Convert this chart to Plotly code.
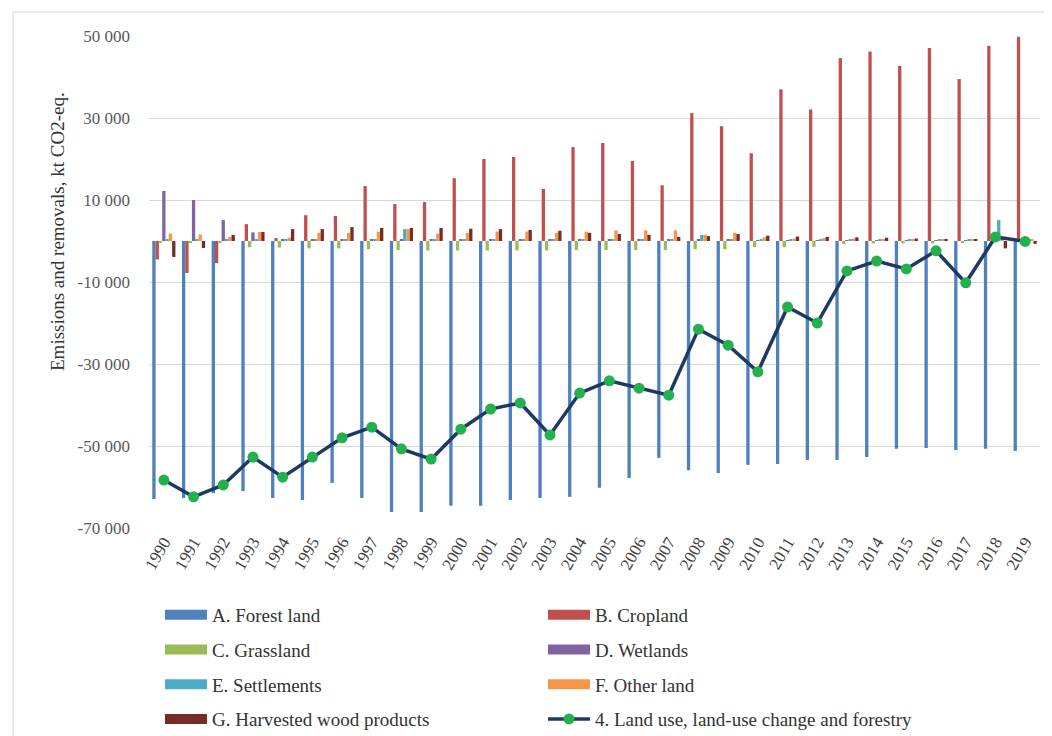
import plotly.graph_objects as go

years = [str(y) for y in range(1990, 2020)]

forest_land = [-62900, -62700, -61500, -61000, -62700, -63200, -59000, -62700, -66100, -66100,
               -64600, -64600, -63200, -62700, -62400, -60200, -57800, -52900, -55900, -56600,
               -54600, -54400, -53400, -53400, -52700, -50700, -50500, -51000, -50700, -51200]
cropland = [-4500, -7800, -5400, 4100, 700, 6300, 6100, 13400, 9000, 9500,
            15300, 20000, 20500, 12700, 22900, 23900, 19500, 13600, 31200, 28000,
            21400, 37000, 32100, 44600, 46200, 42700, 47100, 39500, 47600, 49800]
grassland = [-300, -300, -500, -1500, -1600, -1800, -1800, -2000, -2200, -2300,
             -2300, -2300, -2300, -2300, -2200, -2200, -2200, -2200, -2000, -2000,
             -1500, -1500, -1400, -700, -600, -600, -600, -500, -500, -500]
wetlands = [12200, 10000, 5100, 2100, 500, 300, 300, 300, 300, 300,
            300, 300, 300, 300, 300, 300, 300, 300, 300, 300,
            200, 200, 200, 200, 200, 200, 200, 200, 200, 200]
settlements = [300, 300, 300, 300, 300, 300, 300, 300, 2900, 300,
               300, 300, 300, 300, 300, 300, 300, 300, 1500, 300,
               300, 300, 300, 300, 300, 300, 300, 300, 5100, 300]
other_land = [1800, 1600, 1000, 2200, 800, 2000, 2000, 2200, 2900, 1800,
              2000, 2300, 2300, 2000, 2300, 2600, 2600, 2600, 1500, 2000,
              900, 600, 700, 600, 400, 400, 300, 300, 300, 300]
harvested_wood = [-3900, -1700, 1500, 2200, 2900, 2900, 3400, 3200, 3200, 3200,
                  3000, 2900, 2700, 2500, 2000, 1700, 1500, 1000, 1200, 1700,
                  1300, 1100, 1000, 900, 800, 600, 500, 400, -1800, -700]
lulucf_total = [-58300, -62400, -59500, -52700, -57600, -52700, -48000, -45400, -50700, -53200,
                -45900, -41000, -39500, -47300, -37100, -34100, -35900, -37600, -21500, -25400,
                -31900, -16100, -20000, -7300, -4900, -6800, -2400, -10200, 1000, -100]

y_tick_values = [50000, 30000, 10000, -10000, -30000, -50000, -70000]
y_tick_labels = ["50 000", "30 000", "10 000", "-10 000", "-30 000", "-50 000", "-70 000"]

bar_series = [
    ("A. Forest land", forest_land, "#4f81bd", "legend"),
    ("B. Cropland", cropland, "#c0504d", "legend2"),
    ("C. Grassland", grassland, "#9bbb59", "legend"),
    ("D. Wetlands", wetlands, "#8064a2", "legend2"),
    ("E. Settlements", settlements, "#4bacc6", "legend"),
    ("F. Other land", other_land, "#f79646", "legend2"),
    ("G. Harvested wood products", harvested_wood, "#772c2a", "legend"),
]

FONT = "Liberation Serif, Times New Roman, serif"

fig = go.Figure()
for name, vals, color, _ in bar_series:
    fig.add_trace(go.Bar(x=years, y=vals, name=name, marker=dict(color=color, line=dict(width=0)),
                         showlegend=False))

# legend entries (wide swatches like the original)
order = [0, 2, 4, 6, 1, 3, 5]
for i in order:
    name, vals, color, lg = bar_series[i]
    fig.add_trace(go.Scatter(x=[None], y=[None], mode="lines", name=name,
                             line=dict(color=color, width=10), legend=lg,
                             legendgroup="g%d" % i, hoverinfo="skip"))

fig.add_trace(go.Scatter(x=years, y=lulucf_total, mode="lines+markers",
                         name="4. Land use, land-use change and forestry",
                         line=dict(color="#1f3864", width=3.5),
                         marker=dict(color="#22b14c", size=11, line=dict(width=0)),
                         legend="legend2", legendgroup="g8"))

# page has an 8px body margin; work in page pixel coordinates of the reference
OFF = 8
W, H = 1052 - OFF, 736 - OFF
plot_left, plot_right, plot_top, plot_bottom = 149, 1040, 36, 528
L = plot_left - OFF
R = W - (plot_right - OFF)
T = plot_top - OFF
B = H - (plot_bottom - OFF)
pw, ph = W - L - R, H - T - B

def px_x(x):
    return (x - plot_left) / pw

def px_y(y):
    return (plot_bottom - y) / ph

legend_common = dict(orientation="v", bgcolor="rgba(0,0,0,0)", borderwidth=0,
                     font=dict(family=FONT, size=19, color="#333333"),
                     tracegroupgap=7, itemwidth=42, xanchor="left", yanchor="top")

fig.update_layout(
    width=W, height=H,
    margin=dict(l=L, r=R, t=T, b=B, autoexpand=False),
    paper_bgcolor="white", plot_bgcolor="white",
    barmode="group", bargap=0.22, bargroupgap=0,
    font=dict(family=FONT, color="#404040"),
    legend=dict(x=px_x(160), y=px_y(596), **legend_common),
    legend2=dict(x=px_x(543), y=px_y(596), **legend_common),
    xaxis=dict(type="category", range=[-0.5, len(years) - 0.5], tickangle=-60,
               showgrid=False, showline=False,
               tickfont=dict(family=FONT, size=17, color="#404040"), ticks=""),
    yaxis=dict(range=[-70000, 50000], tickvals=y_tick_values, ticktext=y_tick_labels,
               showgrid=True, gridcolor="#d9d9d9", gridwidth=1, zeroline=False,
               showline=False, ticklabelstandoff=18,
               tickfont=dict(family=FONT, size=17, color="#595959")),
    annotations=[dict(text="Emissions and removals, kt CO2-eq.", xref="paper", yref="paper",
                      x=px_x(58), y=px_y(232), xanchor="center", yanchor="middle",
                      textangle=-90, showarrow=False,
                      font=dict(family=FONT, size=19, color="#333333"))],
    shapes=[
        dict(type="line", xref="paper", yref="paper", x0=px_x(13), x1=px_x(13),
             y0=px_y(12), y1=px_y(736), line=dict(color="#e3e3e3", width=1.5)),
        dict(type="line", xref="paper", yref="paper", x0=px_x(13), x1=px_x(1052),
             y0=px_y(12), y1=px_y(12), line=dict(color="#e3e3e3", width=1.5)),
    ],
)

fig.write_html("out.html")
